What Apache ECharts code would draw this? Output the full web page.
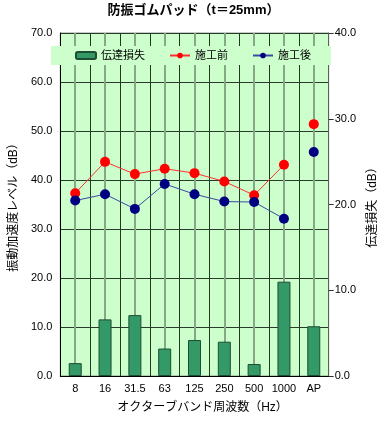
<!DOCTYPE html>
<html>
<head>
<meta charset="utf-8">
<script src="https://cdn.jsdelivr.net/npm/echarts@6/dist/echarts.min.js"></script>
<style>html,body{margin:0;padding:0;background:#fff;}#c{width:387px;height:433px;}</style>
</head>
<body>
<div id="c"></div>
<script>
const categories = ['8', '16', '31.5', '63', '125', '250', '500', '1000', 'AP'];
const lossValues = [1.5, 6.6, 7.1, 3.2, 4.2, 4.0, 1.4, 11.0, 5.8];
const beforeValues = [37.3, 43.7, 41.2, 42.3, 41.4, 39.7, 36.9, 43.1, 51.4];
const afterValues = [35.8, 37.1, 34.1, 39.2, 37.1, 35.6, 35.5, 32.1, 45.7];
const leftTicks = [0, 70, 10];
const rightTicks = [0, 40, 10];

const FONT = "'Liberation Sans','Noto Sans CJK JP',sans-serif";
const n = categories.length;
const linepart = arr => arr.map((v, i) => (i < n - 1 ? v : null));
const apPart = arr => arr.map((v, i) => (i === n - 1 ? v : null));

const chart = echarts.init(document.getElementById('c'), null, {renderer: 'canvas'});
chart.setOption({
  animation: false,
  textStyle: {fontFamily: FONT},
  title: {
    text: '防振ゴムパッド（t＝25mm）',
    left: 'center', top: 4, padding: [0, 0, 0, 13],
    textStyle: {fontSize: 13, fontWeight: 'bold', color: '#000', fontFamily: FONT}
  },
  legend: {
    data: ['伝達損失', '施工前', '施工後'],
    left: 51, top: 46,
    padding: [4, 20, 4, 24],
    itemGap: 24, itemWidth: 20, itemHeight: 7,
    backgroundColor: '#ccffcc',
    textStyle: {fontSize: 11, color: '#000', fontFamily: FONT}
  },
  grid: {
    left: 50, right: 58, top: 33, bottom: 57,
    show: true, backgroundColor: '#ccffcc', borderColor: '#8a9a8a', borderWidth: 1
  },
  xAxis: [{
    type: 'category', data: categories, boundaryGap: true,
    axisLine: {show: true, lineStyle: {color: '#000'}},
    axisTick: {show: false, interval: 0},
    axisLabel: {fontSize: 11, color: '#000', margin: 7, interval: 0, fontFamily: FONT},
    splitLine: {show: true, interval: 0, lineStyle: {color: '#203a20', width: 1}},
    name: 'オクターブバンド周波数（Hz）', nameLocation: 'middle', nameGap: 26,
    nameTextStyle: {fontSize: 12, color: '#000', padding: [0, 0, 0, 16], fontFamily: FONT}
  }, {
    type: 'category', data: categories, boundaryGap: true,
    axisLine: {show: false}, axisTick: {show: false, interval: 0}, axisLabel: {show: false, interval: 0},
    splitLine: {show: true, interval: 0, alignWithLabel: true, lineStyle: {color: '#86a886', width: 2}}
  }],
  yAxis: [{
    type: 'value', min: leftTicks[0], max: leftTicks[1], interval: leftTicks[2],
    axisLine: {show: true, lineStyle: {color: '#000'}},
    axisTick: {show: false},
    axisLabel: {fontSize: 11, color: '#000', margin: 8, formatter: v => v.toFixed(1), fontFamily: FONT},
    splitLine: {show: true, lineStyle: {color: '#2a3a2a', width: 1}},
    name: '振動加速度レベル（dB）', nameLocation: 'middle', nameGap: 36,
    nameTextStyle: {fontSize: 12, color: '#000', fontFamily: FONT}
  }, {
    type: 'value', min: rightTicks[0], max: rightTicks[1], interval: rightTicks[2], position: 'right',
    axisLine: {show: true, lineStyle: {color: '#556655'}},
    axisTick: {show: true, inside: false, length: 5, lineStyle: {color: '#333'}},
    axisLabel: {fontSize: 11, color: '#000', margin: 6, formatter: v => v.toFixed(1), fontFamily: FONT},
    splitLine: {show: false},
    name: '伝達損失（dB）', nameLocation: 'middle', nameGap: 36, nameRotate: 90,
    nameTextStyle: {fontSize: 12, color: '#000', fontFamily: FONT}
  }],
  series: [{
    name: '伝達損失', type: 'bar', xAxisIndex: 0, yAxisIndex: 1, data: lossValues,
    barWidth: 13,
    itemStyle: {color: '#339966', borderColor: '#1d4d33', borderWidth: 1}
  }, {
    name: '施工前', type: 'line', xAxisIndex: 0, yAxisIndex: 0, data: linepart(beforeValues),
    symbol: 'circle', symbolSize: 10, z: 5,
    itemStyle: {color: '#ff0000'}, lineStyle: {color: '#ff3030', width: 1}
  }, {
    name: '施工前', type: 'line', xAxisIndex: 0, yAxisIndex: 0, data: apPart(beforeValues),
    symbol: 'circle', symbolSize: 10, z: 5,
    itemStyle: {color: '#ff0000'}, lineStyle: {color: '#ff3030', width: 1}
  }, {
    name: '施工後', type: 'line', xAxisIndex: 0, yAxisIndex: 0, data: linepart(afterValues),
    symbol: 'circle', symbolSize: 10, z: 5,
    itemStyle: {color: '#000080'}, lineStyle: {color: '#3a4aa0', width: 1}
  }, {
    name: '施工後', type: 'line', xAxisIndex: 0, yAxisIndex: 0, data: apPart(afterValues),
    symbol: 'circle', symbolSize: 10, z: 5,
    itemStyle: {color: '#000080'}, lineStyle: {color: '#3a4aa0', width: 1}
  }]
});
</script>
</body>
</html>
